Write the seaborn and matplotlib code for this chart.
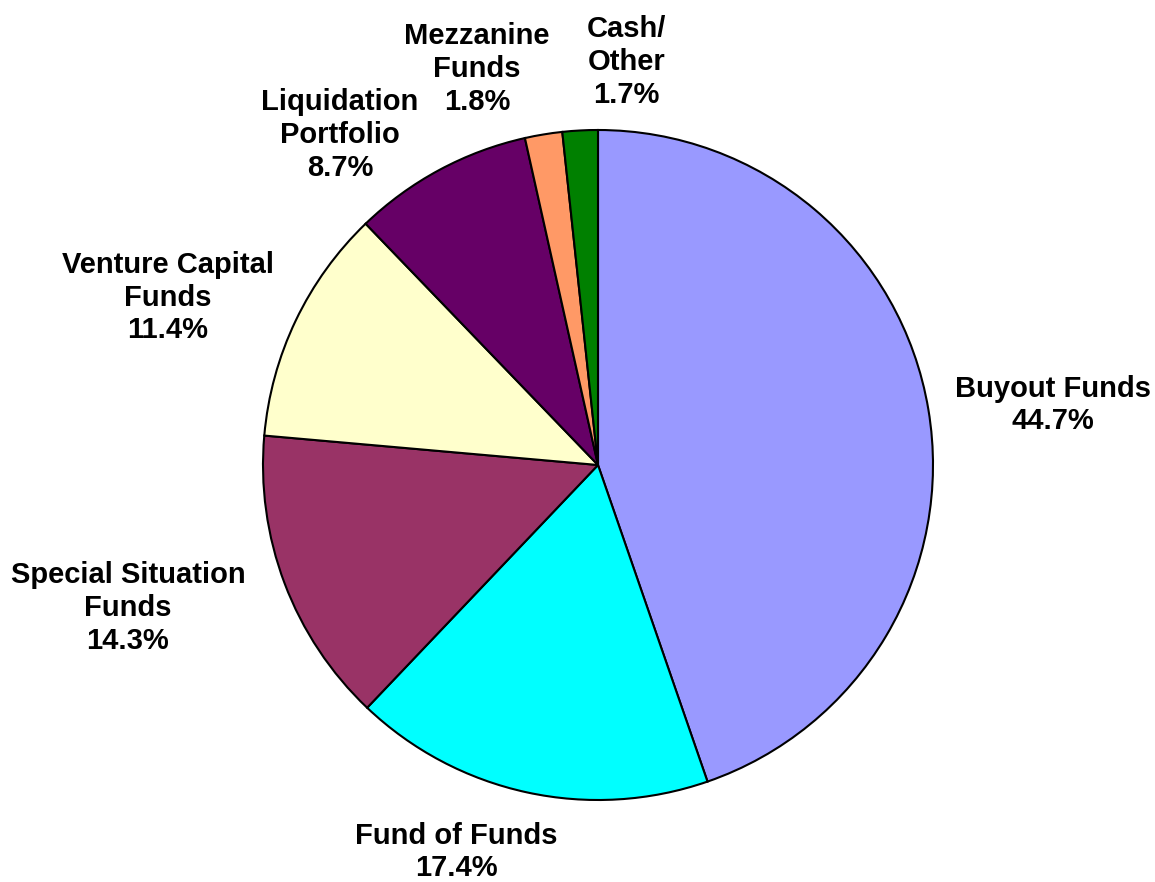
import matplotlib.pyplot as plt
import seaborn as sns

# Portfolio allocation by strategy (percent)
categories = ['Buyout Funds', 'Fund of Funds', 'Special Situation\nFunds',
              'Venture Capital\nFunds', 'Liquidation\nPortfolio',
              'Mezzanine\nFunds', 'Cash/\nOther']
shares = [44.7, 17.4, 14.3, 11.4, 8.7, 1.8, 1.7]
colors = ['#9999FF', '#00FFFF', '#993366', '#FFFFCC', '#660066', '#FF9966', '#008000']

# label centres relative to pie centre, in radius units
label_xy = [(1.358, 0.179), (-0.424, -1.155), (-1.403, -0.427), (-1.284, 0.500),
            (-0.770, 0.985), (-0.361, 1.182), (0.084, 1.203)]

sns.set_theme(style='white')
plt.rcParams['font.family'] = ['Liberation Sans', 'DejaVu Sans']

fig = plt.figure(figsize=(11.55, 8.82), dpi=100)
ax = fig.add_axes([0, 0, 1, 1])

wedges, _ = ax.pie(shares, colors=colors, startangle=90, counterclock=False,
                   radius=1.0,
                   wedgeprops=dict(edgecolor='black', linewidth=1.5))

for name, val, (lx, ly) in zip(categories, shares, label_xy):
    ax.text(lx, ly, f'{name}\n{val:.1f}%', ha='center', va='center',
            fontsize=21, fontweight='bold', linespacing=1.22, color='black')

# place the pie: centre at (598, 465) px, radius 335 px
r = 335.0
ax.set_xlim(-598 / r, (1155 - 598) / r)
ax.set_ylim(-(882 - 465) / r, 465 / r)
ax.set_aspect('equal')
ax.axis('off')

fig.savefig('out.png', dpi=100, facecolor='white')
